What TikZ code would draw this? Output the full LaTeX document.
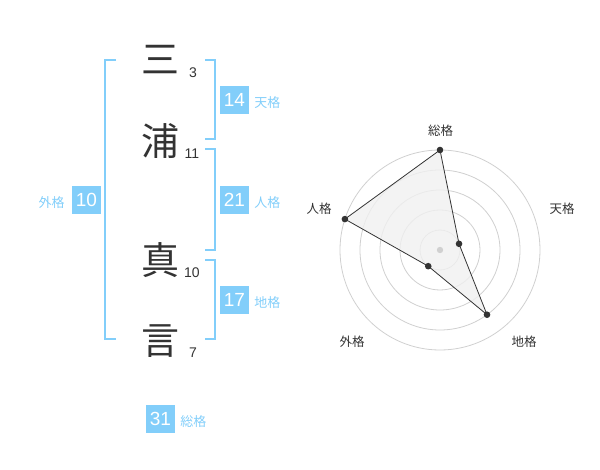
\documentclass[tikz,border=0pt]{standalone}
\usepackage{fontspec}
\setmainfont{Liberation Sans}
\newfontfamily\jp{Noto Sans CJK JP}
\usetikzlibrary{positioning}
\definecolor{kakublue}{RGB}{130,206,250}
\definecolor{ink}{RGB}{51,51,51}
\definecolor{ring}{RGB}{208,208,208}
\definecolor{area}{RGB}{240,240,240}
\tikzstyle{kanji}=[text=ink,font=\jp\fontsize{38}{38}\selectfont,inner sep=0pt]
\tikzstyle{strokes}=[text=ink,font=\fontsize{14}{14}\selectfont,inner sep=0pt]
\tikzstyle{kaku}=[fill=kakublue,text=white,font=\fontsize{19}{19}\selectfont,minimum width=29pt,minimum height=28pt,inner sep=0pt]
\tikzstyle{kakuname}=[text=kakublue,font=\jp\fontsize{13}{13}\selectfont,inner sep=0pt]
\tikzstyle{bracket}=[draw=kakublue,line width=2pt]
\tikzstyle{axisname}=[text=ink,font=\jp\fontsize{12.5}{12.5}\selectfont,inner sep=0pt]
\tikzstyle{dot}=[circle,fill=ink,inner sep=0pt,minimum size=6.6pt]

\begin{document}
\begin{tikzpicture}[x=1pt,y=-1pt]
            \useasboundingbox (0,0) rectangle (600,470);
            % name
            \node (c1) [kanji] at (160,60) {三};
            \node (c2) [kanji] at (160,141) {浦};
            \node (c3) [kanji] at (160,260) {真};
            \node (c4) [kanji] at (160,341) {言};
            \node (n1) [strokes] at (193,73) {3};
            \node (n2) [strokes] at (192,154) {11};
            \node (n3) [strokes] at (192,273) {10};
            \node (n4) [strokes] at (193,353) {7};
            % brackets
            \draw[bracket] (116,60) -- (105,60) -- (105,339.5) -- (116,339.5);
            \draw[bracket] (205,60) -- (215,60) -- (215,139.5) -- (205,139.5);
            \draw[bracket] (205,149.5) -- (215,149.5) -- (215,250) -- (205,250);
            \draw[bracket] (205,260) -- (215,260) -- (215,339.5) -- (205,339.5);
            % kaku boxes
            \node (ten) [kaku] at (234.5,100) {14};
            \node (jin) [kaku] at (234.5,200) {21};
            \node (chi) [kaku] at (234.5,300) {17};
            \node (gai) [kaku] at (86.5,200) {10};
            \node (sou) [kaku] at (160.5,419) {31};
            \node [kakuname, right=5pt of ten, yshift=-3pt] {天格};
            \node [kakuname, right=5pt of jin, yshift=-3pt] {人格};
            \node [kakuname, right=5pt of chi, yshift=-3pt] {地格};
            \node [kakuname, left=7pt of gai, yshift=-3pt] {外格};
            \node [kakuname, right=5pt of sou, yshift=-3pt] {総格};
            % radar
            \coordinate (rc) at (440,250);
            \foreach \r in {20,40,...,100}
                \draw[ring,line width=0.8pt] (rc) circle (\r pt);
            \path (rc) ++(90:100pt) coordinate (psou);
            \path (rc) ++(18:20pt) coordinate (pten);
            \path (rc) ++(306:80pt) coordinate (pchi);
            \path (rc) ++(234:20pt) coordinate (pgai);
            \path (rc) ++(162:100pt) coordinate (pjin);
            \filldraw[fill=area,fill opacity=0.8,draw=ink,line width=0.8pt]
                (psou) -- (pten) -- (pchi) -- (pgai) -- (pjin) -- cycle;
            \fill[ring] (rc) circle (3.2pt);
            \foreach \p in {psou,pten,pchi,pgai,pjin}
                \node[dot] at (\p) {};
            \node (asou) [axisname] at (440.7,130.5) {総格};
            \node (aten) [axisname] at (562,209) {天格};
            \node (ajin) [axisname] at (319,209) {人格};
            \node (agai) [axisname] at (352,341.5) {外格};
            \node (achi) [axisname] at (524,341.5) {地格};
        \end{tikzpicture}
\end{document}
